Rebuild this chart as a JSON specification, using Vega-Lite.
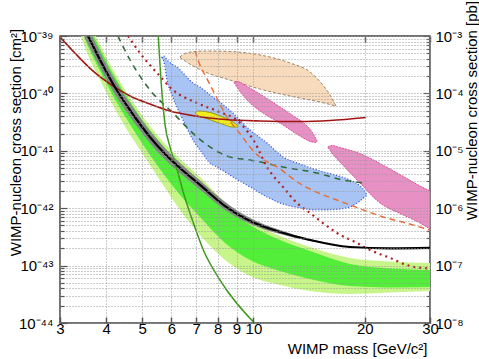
{
"$schema": "https://vega.github.io/schema/vega-lite/v6.json",
"width": 370, "height": 287,
"autosize": {"type": "none"},
"padding": {"left": 60, "top": 36, "right": 49, "bottom": 36},
"config": {"view": {"stroke": "#444", "strokeWidth": 1.5}, "font": "Liberation Sans", "axis": {"labelColor": "#000", "titleColor": "#000", "labelFont": "Liberation Sans", "titleFont": "Liberation Sans"}},
"datasets": {
"band": [
{"m":3.40,"lgh":3.61e-39,"gh":3.07e-39,"gl":1.52e-39,"lgl":1.08e-39},
{"m":3.57,"lgh":1.90e-39,"gh":1.62e-39,"gl":6.69e-40,"lgl":4.67e-40},
{"m":3.85,"lgh":6.97e-40,"gh":5.94e-40,"gl":2.46e-40,"lgl":1.71e-40},
{"m":4.22,"lgh":2.27e-40,"gh":1.93e-40,"gl":7.99e-41,"lgl":5.35e-41},
{"m":4.78,"lgh":6.28e-41,"gh":5.35e-41,"gl":2.13e-41,"lgl":1.42e-41},
{"m":5.25,"lgh":2.70e-41,"gh":2.30e-41,"gl":8.45e-42,"lgl":5.66e-42},
{"m":5.77,"lgh":1.31e-41,"gh":1.12e-41,"gl":3.64e-42,"lgl":2.25e-42},
{"m":6.33,"lgh":7.20e-42,"gh":6.13e-42,"gl":1.70e-42,"lgl":9.30e-43},
{"m":7.17,"lgh":3.50e-42,"gh":2.98e-42,"gl":7.02e-43,"lgl":3.41e-43},
{"m":8.38,"lgh":1.28e-42,"gh":1.09e-42,"gl":2.48e-43,"lgl":1.25e-43},
{"m":9.79,"lgh":5.98e-43,"gh":5.10e-43,"gl":1.25e-43,"lgl":6.59e-44},
{"m":11.8,"lgh":3.28e-43,"gh":2.79e-43,"gl":8.05e-44,"lgl":4.59e-44},
{"m":14.22,"lgh":2.11e-43,"gh":1.80e-43,"gl":5.84e-44,"lgl":3.61e-44},
{"m":18.23,"lgh":1.36e-43,"gh":1.07e-43,"gl":4.41e-44,"lgl":3.20e-44},
{"m":23.39,"lgh":1.18e-43,"gh":8.90e-44,"gl":4.16e-44,"lgl":3.40e-44},
{"m":30,"lgh":1.11e-43,"gh":8.38e-44,"gl":4.24e-44,"lgl":3.61e-44}
],
"grey": [
{"m":3.48,"lo":1.00e-39,"hi":1.90e-39},
{"m":3.57,"lo":7.25e-40,"hi":1.38e-39},
{"m":3.85,"lo":2.83e-40,"hi":5.16e-40},
{"m":4.22,"lo":9.74e-41,"hi":1.71e-40},
{"m":4.78,"lo":2.98e-41,"hi":5.04e-41},
{"m":5.25,"lo":1.37e-41,"hi":2.21e-41},
{"m":5.77,"lo":7.03e-42,"hi":1.10e-41},
{"m":6.33,"lo":4.11e-42,"hi":6.13e-42},
{"m":7.17,"lo":2.12e-42,"hi":3.04e-42},
{"m":8.38,"lo":9.32e-43,"hi":1.28e-42},
{"m":9.79,"lo":5.30e-43,"hi":6.75e-43},
{"m":11.8,"lo":3.55e-43,"hi":4.17e-43},
{"m":14.22,"lo":2.68e-43,"hi":2.90e-43},
{"m":16.0,"lo":2.44e-43,"hi":2.46e-43}
],
"cresst": [
{"m":6.33,"lo":4.25e-40,"hi":4.31e-40},
{"m":6.53,"lo":3.67e-40,"hi":4.96e-40},
{"m":6.95,"lo":2.88e-40,"hi":5.37e-40},
{"m":7.63,"lo":2.18e-40,"hi":5.48e-40},
{"m":8.64,"lo":1.71e-40,"hi":5.37e-40},
{"m":10.42,"lo":1.19e-40,"hi":4.67e-40},
{"m":12.55,"lo":9.01e-41,"hi":3.39e-40},
{"m":14.22,"lo":7.67e-41,"hi":2.36e-40},
{"m":15.32,"lo":6.94e-41,"hi":1.46e-40},
{"m":16.10,"lo":6.41e-41,"hi":9.38e-41},
{"m":16.71,"lo":5.95e-41,"hi":6.03e-41}
],
"dama1": [
{"m":8.86,"lo":1.56e-40,"hi":1.58e-40},
{"m":9.02,"lo":1.29e-40,"hi":1.61e-40},
{"m":9.61,"lo":7.67e-41,"hi":1.32e-40},
{"m":10.61,"lo":4.56e-41,"hi":9.01e-41},
{"m":11.80,"lo":3.05e-41,"hi":5.79e-41},
{"m":12.95,"lo":2.04e-41,"hi":3.88e-41},
{"m":13.78,"lo":1.61e-41,"hi":2.93e-41},
{"m":14.40,"lo":1.42e-41,"hi":2.13e-41},
{"m":14.76,"lo":1.40e-41,"hi":1.61e-41},
{"m":14.85,"lo":1.46e-41,"hi":1.48e-41}
],
"dama2": [
{"m":15.90,"lo":1.15e-41,"hi":1.17e-41},
{"m":16.30,"lo":9.16e-42,"hi":1.24e-41},
{"m":17.13,"lo":6.38e-42,"hi":1.14e-41},
{"m":19.41,"lo":2.75e-42,"hi":8.98e-42},
{"m":21.98,"lo":1.23e-42,"hi":6.01e-42},
{"m":24.89,"lo":8.08e-43,"hi":3.86e-42},
{"m":28.19,"lo":5.52e-43,"hi":2.44e-42},
{"m":30,"lo":4.34e-43,"hi":1.99e-42}
],
"cdmssi": [
{"m":5.66,"lo":4.20e-40,"hi":4.31e-40},
{"m":5.73,"lo":3.52e-40,"hi":4.48e-40},
{"m":5.84,"lo":1.71e-40,"hi":3.82e-40},
{"m":6.02,"lo":9.38e-41,"hi":3.25e-40},
{"m":6.21,"lo":5.79e-41,"hi":2.88e-40},
{"m":6.53,"lo":2.93e-41,"hi":2.09e-40},
{"m":6.86,"lo":1.54e-41,"hi":1.52e-40},
{"m":7.17,"lo":1.03e-41,"hi":1.29e-40},
{"m":7.63,"lo":6.13e-42,"hi":9.38e-41},
{"m":7.97,"lo":5.22e-42,"hi":7.67e-41},
{"m":8.80,"lo":3.50e-42,"hi":4.56e-41},
{"m":9.79,"lo":2.34e-42,"hi":2.30e-41},
{"m":10.88,"lo":1.57e-42,"hi":1.37e-41},
{"m":12.02,"lo":1.18e-42,"hi":7.80e-42},
{"m":13.36,"lo":1.01e-42,"hi":5.89e-42},
{"m":14.85,"lo":9.30e-43,"hi":4.63e-42},
{"m":16.61,"lo":9.49e-43,"hi":3.79e-42},
{"m":18.23,"lo":1.05e-42,"hi":3.10e-42},
{"m":19.41,"lo":1.34e-42,"hi":2.44e-42},
{"m":20.14,"lo":1.63e-42,"hi":1.84e-42},
{"m":20.27,"lo":1.68e-42,"hi":1.70e-42}
],
"cogent": [
{"m":6.95,"lo":4.56e-41,"hi":4.65e-41},
{"m":7.08,"lo":4.12e-41,"hi":4.94e-41},
{"m":7.40,"lo":3.73e-41,"hi":4.84e-41},
{"m":7.87,"lo":3.24e-41,"hi":4.38e-41},
{"m":8.38,"lo":2.81e-41,"hi":3.73e-41},
{"m":8.75,"lo":2.60e-41,"hi":3.24e-41},
{"m":9.02,"lo":2.60e-41,"hi":2.81e-41},
{"m":9.08,"lo":2.63e-41,"hi":2.65e-41}
],
"black": [
{"m":3.48,"s":1.38e-39},{"m":3.57,"s":1e-39},{"m":3.85,"s":3.82e-40},{"m":4.22,"s":1.29e-40},{"m":4.78,"s":3.88e-41},{"m":5.25,"s":1.74e-41},{"m":5.77,"s":8.79e-42},{"m":6.33,"s":5.02e-42},{"m":7.17,"s":2.54e-42},{"m":8.38,"s":1.09e-42},{"m":9.79,"s":5.98e-43},{"m":11.8,"s":3.85e-43},{"m":14.22,"s":2.79e-43},{"m":18.23,"s":2.11e-43},{"m":23.39,"s":1.99e-43},{"m":30,"s":2.03e-43}
],
"cdmslite": [
{"m":3,"s":9.61e-40},{"m":3.29,"s":5.06e-40},{"m":3.68,"s":2.46e-40},{"m":4.17,"s":1.35e-40},{"m":4.64,"s":9.01e-41},{"m":5.25,"s":6.54e-41},{"m":5.95,"s":4.94e-41},{"m":6.95,"s":4.04e-41},{"m":8.38,"s":3.51e-41},{"m":10.42,"s":3.31e-41},{"m":13.36,"s":3.24e-41},{"m":16.10,"s":3.37e-41},{"m":20.14,"s":3.80e-41}
],
"xenon10": [
{"m":4.30,"s":1e-39},{"m":4.64,"s":3.82e-40},{"m":5.25,"s":1.15e-40},{"m":6.06,"s":4.56e-41},{"m":7.04,"s":1.74e-41},{"m":8.64,"s":7.80e-42},{"m":9.79,"s":6.92e-42},{"m":12.02,"s":5.22e-42},{"m":14.85,"s":4.10e-42},{"m":17.46,"s":3.10e-42},{"m":19.9,"s":2.75e-42}
],
"edelweiss": [
{"m":6.95,"s":5.5e-40},{"m":7.15,"s":3.25e-40},{"m":7.47,"s":1.85e-40},{"m":7.94,"s":8.65e-41},{"m":8.45,"s":4.04e-41},{"m":9.18,"s":2.02e-41},{"m":9.79,"s":1.16e-41},{"m":10.4,"s":7.8e-42},{"m":11.6,"s":5.22e-42},{"m":13.3,"s":2.72e-42},{"m":14.8,"s":1.91e-42},{"m":16.8,"s":1.39e-42},{"m":19.3,"s":9.95e-43},{"m":22.3,"s":7.1e-43},{"m":26.0,"s":5.46e-43},{"m":30,"s":4.17e-43}
],
"cdmsge": [
{"m":4.58,"s":1e-39},{"m":5.03,"s":4.31e-40},{"m":5.49,"s":2.27e-40},{"m":6.06,"s":1.15e-40},{"m":7.04,"s":6.80e-41},{"m":7.97,"s":4.94e-41},{"m":9.20,"s":3.05e-41},{"m":10.10,"s":1.37e-41},{"m":10.88,"s":5.22e-42},{"m":12.02,"s":2.34e-42},{"m":13.11,"s":1.23e-42},{"m":14.22,"s":8.25e-43},{"m":15.41,"s":5.52e-43},{"m":16.82,"s":3.70e-43},{"m":19.04,"s":2.48e-43},{"m":20.65,"s":1.87e-43},{"m":23.39,"s":1.36e-43},{"m":26.49,"s":9.84e-44},{"m":30,"s":8.90e-44}
],
"lux": [
{"m":5.53,"s":1e-39},{"m":5.65,"s":1.15e-40},{"m":5.77,"s":2.81e-41},{"m":5.95,"s":1.16e-41},{"m":6.22,"s":4.64e-42},{"m":6.47,"s":1.84e-42},{"m":6.88,"s":5.52e-43},{"m":7.32,"s":1.87e-43},{"m":8.12,"s":5.6e-44},{"m":10.06,"s":1e-44}
]
},
"layer": [
{
"layer": [
{"data": {"name": "band"}, "mark": {"type": "area", "color": "#c8f58a", "clip": true, "interpolate": "monotone"},
 "encoding": {
  "x": {"field": "m", "type": "quantitative", "scale": {"type": "log", "domain": [3, 30], "nice": false},
   "axis": {"values": [3,4,5,6,7,8,9,10,20,30], "labelExpr": "'' + datum.value", "labelFontSize": 15, "labelPadding": 4, "labelFlush": false, "labelOverlap": false,
    "tickSize": -6, "tickColor": "#555", "tickWidth": 1.5, "domain": false, "grid": true, "gridDash": [1,2], "gridColor": "#999", "zindex": 1,
    "title": "WIMP mass [GeV/c²]", "titleFontSize": 15, "titleFontWeight": "normal", "titleAlign": "right", "titleAnchor": "end", "titleBaseline": "alphabetic", "titleX": 367, "titleY": 30}},
  "y": {"field": "lgl", "type": "quantitative", "scale": {"type": "log", "domain": [1e-44, 1e-39], "nice": false},
   "axis": {"values": [1e-44,2e-44,3e-44,4e-44,5e-44,6e-44,7e-44,8e-44,9e-44,1e-43,2e-43,3e-43,4e-43,5e-43,6e-43,7e-43,8e-43,9e-43,1e-42,2e-42,3e-42,4e-42,5e-42,6e-42,7e-42,8e-42,9e-42,1e-41,2e-41,3e-41,4e-41,5e-41,6e-41,7e-41,8e-41,9e-41,1e-40,2e-40,3e-40,4e-40,5e-40,6e-40,7e-40,8e-40,9e-40,1e-39],
    "labelExpr": "abs(log(datum.value)/LN10 - round(log(datum.value)/LN10)) < 0.01 ? '10' + ['⁻⁴⁴','⁻⁴³','⁻⁴²','⁻⁴¹','⁻⁴⁰','⁻³⁹'][round(log(datum.value)/LN10)+44] : ''",
    "labelFontSize": 15, "labelPadding": 14, "labelFlush": false, "labelOverlap": false, "labelBaseline": "middle",
    "tickSize": {"condition": {"test": "abs(log(datum.value)/LN10 - round(log(datum.value)/LN10)) < 0.01", "value": -7}, "value": -4},
    "tickColor": "#555", "tickWidth": 1.2, "domain": false, "grid": true, "gridDash": [1,2], "gridColor": "#999", "zindex": 1,
    "title": "WIMP-nucleon cross section [cm²]", "titleFontSize": 15, "titleFontWeight": "normal", "titleAngle": -90, "titleAlign": "center", "titleBaseline": "middle", "titleX": -45, "titleY": 106}},
  "y2": {"field": "lgh"}}},
{"data": {"name": "band"}, "mark": {"type": "area", "color": "#52ee3a", "clip": true, "interpolate": "monotone"},
 "encoding": {"x": {"field": "m", "type": "quantitative"}, "y": {"field": "gl", "type": "quantitative"}, "y2": {"field": "gh"}}},
{"data": {"name": "grey"}, "mark": {"type": "area", "color": "#858585", "clip": true, "interpolate": "monotone"},
 "encoding": {"x": {"field": "m", "type": "quantitative"}, "y": {"field": "lo", "type": "quantitative"}, "y2": {"field": "hi"}}},
{"data": {"name": "cresst"}, "mark": {"type": "area", "fill": "#f8dbbd", "stroke": "#a38462", "strokeDash": [3,2], "strokeWidth": 1, "clip": true, "interpolate": "monotone"},
 "encoding": {"x": {"field": "m", "type": "quantitative"}, "y": {"field": "lo", "type": "quantitative"}, "y2": {"field": "hi"}}},
{"data": {"name": "dama1"}, "mark": {"type": "area", "fill": "#e690c4", "stroke": "#d8307e", "strokeDash": [2,1], "strokeWidth": 0.8, "clip": true, "interpolate": "monotone"},
 "encoding": {"x": {"field": "m", "type": "quantitative"}, "y": {"field": "lo", "type": "quantitative"}, "y2": {"field": "hi"}}},
{"data": {"name": "dama2"}, "mark": {"type": "area", "fill": "#e690c4", "stroke": "#d8307e", "strokeDash": [2,1], "strokeWidth": 0.8, "clip": true, "interpolate": "monotone"},
 "encoding": {"x": {"field": "m", "type": "quantitative"}, "y": {"field": "lo", "type": "quantitative"}, "y2": {"field": "hi"}}},
{"data": {"name": "cdmssi"}, "mark": {"type": "area", "fill": "#a7c4f4", "stroke": "#2a44e8", "strokeDash": [1,2], "strokeWidth": 1.2, "clip": true, "interpolate": "monotone"},
 "encoding": {"x": {"field": "m", "type": "quantitative"}, "y": {"field": "lo", "type": "quantitative"}, "y2": {"field": "hi"}}},
{"data": {"name": "cogent"}, "mark": {"type": "area", "fill": "#f2ee1c", "stroke": "#9e9a00", "strokeWidth": 1, "clip": true, "interpolate": "monotone"},
 "encoding": {"x": {"field": "m", "type": "quantitative"}, "y": {"field": "lo", "type": "quantitative"}, "y2": {"field": "hi"}}},
{"data": {"name": "xenon10"}, "mark": {"type": "line", "color": "#2f6b3a", "strokeDash": [6,5], "strokeWidth": 1.6, "clip": true, "interpolate": "monotone"},
 "encoding": {"x": {"field": "m", "type": "quantitative"}, "y": {"field": "s", "type": "quantitative"}}},
{"data": {"name": "cdmsge"}, "mark": {"type": "line", "color": "#b02020", "strokeDash": [2,4], "strokeWidth": 2.2, "clip": true, "interpolate": "monotone"},
 "encoding": {"x": {"field": "m", "type": "quantitative"}, "y": {"field": "s", "type": "quantitative"}}},
{"data": {"name": "edelweiss"}, "mark": {"type": "line", "color": "#f06a2c", "strokeDash": [6,4], "strokeWidth": 1.4, "clip": true, "interpolate": "monotone"},
 "encoding": {"x": {"field": "m", "type": "quantitative"}, "y": {"field": "s", "type": "quantitative"}}},
{"data": {"name": "cdmslite"}, "mark": {"type": "line", "color": "#a31515", "strokeWidth": 1.6, "clip": true, "interpolate": "monotone"},
 "encoding": {"x": {"field": "m", "type": "quantitative"}, "y": {"field": "s", "type": "quantitative"}}},
{"data": {"name": "lux"}, "mark": {"type": "line", "color": "#3c9a1c", "strokeWidth": 1.5, "clip": true, "interpolate": "monotone"},
 "encoding": {"x": {"field": "m", "type": "quantitative"}, "y": {"field": "s", "type": "quantitative"}}},
{"data": {"name": "black"}, "mark": {"type": "line", "color": "#000000", "strokeWidth": 2.2, "clip": true, "interpolate": "monotone"},
 "encoding": {"x": {"field": "m", "type": "quantitative"}, "y": {"field": "s", "type": "quantitative"}}}
]
},
{
"data": {"values": [{"m": 3, "pb": 1e-8}]},
"mark": {"type": "point", "opacity": 0},
"encoding": {
 "x": {"field": "m", "type": "quantitative", "scale": {"type": "log", "domain": [3, 30], "nice": false},
  "axis": {"orient": "top", "values": [3,4,5,6,7,8,9,10,20,30], "labels": false, "tickSize": -6, "tickColor": "#555", "tickWidth": 1.5, "domain": false, "grid": false, "title": null}},
 "y": {"field": "pb", "type": "quantitative", "scale": {"type": "log", "domain": [1e-8, 1e-3], "nice": false},
  "axis": {"orient": "right", "values": [1e-8,2e-8,3e-8,4e-8,5e-8,6e-8,7e-8,8e-8,9e-8,1e-7,2e-7,3e-7,4e-7,5e-7,6e-7,7e-7,8e-7,9e-7,1e-6,2e-6,3e-6,4e-6,5e-6,6e-6,7e-6,8e-6,9e-6,1e-5,2e-5,3e-5,4e-5,5e-5,6e-5,7e-5,8e-5,9e-5,1e-4,2e-4,3e-4,4e-4,5e-4,6e-4,7e-4,8e-4,9e-4,1e-3],
   "labelExpr": "abs(log(datum.value)/LN10 - round(log(datum.value)/LN10)) < 0.01 ? '10' + ['⁻⁸','⁻⁷','⁻⁶','⁻⁵','⁻⁴','⁻³'][round(log(datum.value)/LN10)+8] : ''",
   "labelFontSize": 15, "labelPadding": 12, "labelFlush": false, "labelOverlap": false, "labelBaseline": "middle",
   "tickSize": {"condition": {"test": "abs(log(datum.value)/LN10 - round(log(datum.value)/LN10)) < 0.01", "value": -7}, "value": -4},
   "tickColor": "#555", "tickWidth": 1.2, "domain": false, "grid": false,
   "title": "WIMP-nucleon cross section [pb]", "titleFontSize": 15, "titleFontWeight": "normal", "titleAngle": -90, "titleAlign": "center", "titleBaseline": "middle", "titleX": 41, "titleY": 74}}
}
}
],
"resolve": {"scale": {"y": "independent"}, "axis": {"y": "independent", "x": "independent"}}
}
